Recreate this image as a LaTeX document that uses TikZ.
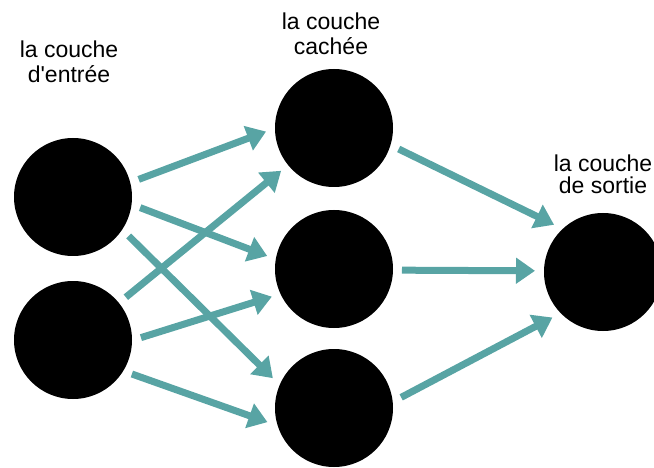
\documentclass[tikz,border=0pt]{standalone}
\usepackage{fontspec}
\setmainfont{Liberation Sans}
\usetikzlibrary{arrows.meta}
\definecolor{linkteal}{RGB}{88,164,164}
\begin{document}
\begin{tikzpicture}[x=1pt,y=-1pt,
  neuron/.style={circle,fill=black,draw=none,minimum size=118pt,inner sep=0pt,outer sep=9pt},
  layerlabel/.style={align=center,inner sep=0pt,font=\fontsize{23}{25}\selectfont},
  link/.style={draw=linkteal,line width=7pt,-{Triangle[length=19pt,width=25pt]}}]
\useasboundingbox (0,0) rectangle (654,468);
\clip (0,0) rectangle (654,468);

% layer labels
\node[layerlabel] (lin)  at (69,61.5)  {la couche\\d\textquotesingle entrée};
\node[layerlabel] (lhid) at (331,34)   {la couche\\cachée};
\node[layerlabel,font=\fontsize{23}{22}\selectfont] (lout) at (603,174) {la couche\\de sortie};

% neurons
\node[neuron] (i1) at (73,197) {};
\node[neuron] (i2) at (73,340) {};
\node[neuron] (h1) at (334,128) {};
\node[neuron] (h2) at (334,269) {};
\node[neuron] (h3) at (334,408) {};
\node[neuron] (o)  at (603,272) {};

% input -> hidden
\draw[link] (i1.15.5)  -- (h1.183.4);
\draw[link] (i1.-9.8)  -- (h2.169.7);
\draw[link] (i1.-35)   -- (h3.154.2);
\draw[link] (i2.39.8)  -- (h1.219.2);
\draw[link] (i2.2.6)   -- (h2.204.8);
\draw[link] (i2.-30.3) -- (h3.192.6);

% hidden -> output
\draw[link] (h1.-18.4) -- (o.136.7);
\draw[link] (h2.-1.7)  -- (o.179.2);
\draw[link] (h3.9.5)   -- (o.222);
\end{tikzpicture}
\end{document}
